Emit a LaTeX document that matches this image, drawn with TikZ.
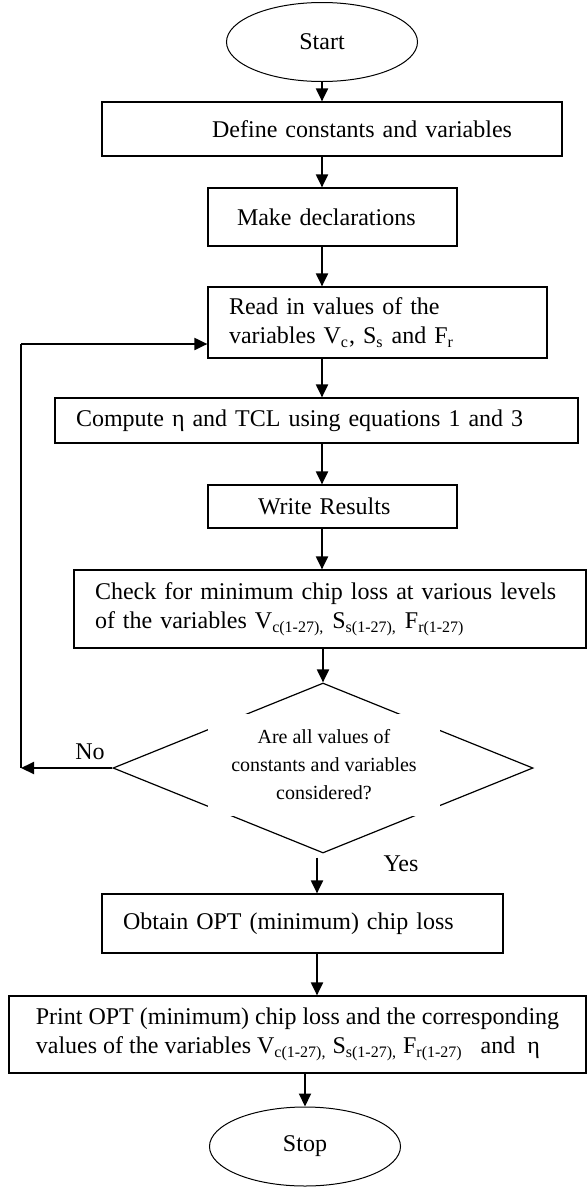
\documentclass[tikz,border=0pt]{standalone}
\usepackage{fontspec}
\setmainfont{Liberation Serif}
\usetikzlibrary{shapes.geometric,arrows.meta}

\tikzset{
    termnode/.style={draw, ellipse, line width=0.5pt, minimum width=95.5pt, minimum height=39.5pt, inner sep=0pt},
    procbox/.style={draw, line width=0.6pt, align=left, inner ysep=1pt},
    decbox/.style={draw, diamond, line width=0.6pt, minimum width=210pt, minimum height=85pt, inner sep=0pt},
    dectext/.style={fill=white, align=center, inner sep=0pt, minimum width=116pt, minimum height=51pt, font=\fontsize{10}{14}\selectfont},
    flowarrow/.style={line width=1pt, -{Triangle[length=6.5pt,width=6pt]}}
}

\begin{document}
\begin{tikzpicture}[x=1pt, y=-1pt, font=\fontsize{12}{14.5}\selectfont]
            \useasboundingbox (0,0) rectangle (293.5,594.5);
            \node[termnode] (start) at (161,21) {Start};
            \node[procbox, align=right, text width=180pt, inner xsep=25pt, minimum height=27pt] (define) at (166,64.5) {Define constants and variables};
            \node[procbox, text width=95.5pt, inner xsep=14.5pt, minimum height=29pt] (make) at (166.25,108.5) {Make declarations};
            \node[procbox, text width=148.5pt, inner xsep=10.5pt, minimum height=35.5pt] (read) at (188.75,161.25) {Read in values of the\\variables V\textsubscript{c}, S\textsubscript{s} and F\textsubscript{r}};
            \node[procbox, text width=240.5pt, inner xsep=10.5pt, minimum height=22.5pt] (compute) at (158.25,210.25) {Compute η and TCL using equations 1 and 3};
            \node[procbox, text width=74.5pt, inner xsep=25pt, minimum height=21.5pt] (write) at (166.25,253.25) {Write Results};
            \node[procbox, text width=235pt, inner xsep=10.5pt, minimum height=39pt] (check) at (165,304.5) {Check for minimum chip loss at various levels\\of the variables V\textsubscript{c(1-27),} S\textsubscript{s(1-27),} F\textsubscript{r(1-27)}};
            \node[decbox] (dec) at (161.5,384) {};
            \node[dectext] (dectxt) at (162,382.5) {Are all values of\\constants and variables\\considered?};
            \node (no) at (45,376) {No};
            \node (yes) at (200.5,432) {Yes};
            \node[procbox, text width=179.5pt, inner xsep=10.5pt, minimum height=29.5pt] (obtain) at (151.25,461.75) {Obtain OPT (minimum) chip loss};
            \node[procbox, minimum width=288.5pt, minimum height=38.5pt] (print) at (148.75,517.25) {Print OPT (minimum) chip loss and the corresponding\\values of the variables V\textsubscript{c(1-27),} S\textsubscript{s(1-27),} F\textsubscript{r(1-27)}~~ and~~η};
            \node[termnode] (stop) at (152.5,573.25) {Stop};

            \draw[flowarrow] (start.south) -- (start.south |- define.north);
            \draw[flowarrow] (define.south -| start) -- (make.north -| start);
            \draw[flowarrow] (make.south -| start) -- (read.north -| start);
            \draw[flowarrow] (read.south -| start) -- (compute.north -| start);
            \draw[flowarrow] (compute.south -| start) -- (write.north -| start);
            \draw[flowarrow] (write.south -| start) -- (check.north -| start);
            \draw[flowarrow] (check.south -| dec) -- (dec.north);
            \draw[flowarrow] ([shift={(-3,2)}]dec.south) -- ([xshift=-3]dec.south |- obtain.north);
            \draw[flowarrow] ([xshift=7.25]obtain.south) -- ([xshift=7.25]obtain.south |- print.north);
            \draw[flowarrow] (print.south -| stop) -- (stop);

            \coordinate (lowc) at (10.5,384);
            \coordinate (upc) at (10.5,172);
            \draw[flowarrow] (dec.west) -- (lowc);
            \draw[line width=1pt] (lowc) -- (upc);
            \draw[flowarrow] (upc) -- (upc -| read.west);
\end{tikzpicture}
\end{document}
